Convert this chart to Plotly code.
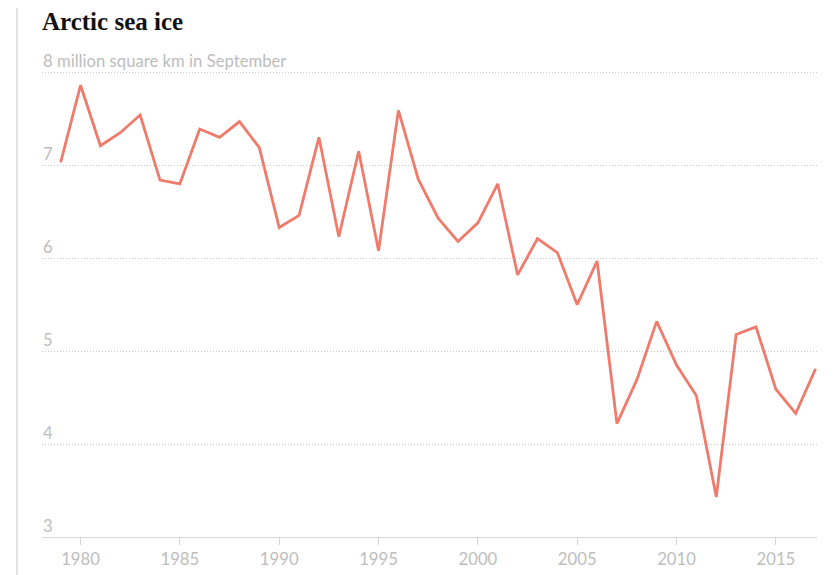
import plotly.graph_objects as go

years = list(range(1979, 2018))
extent = [7.03, 7.86, 7.21, 7.35, 7.54, 6.84, 6.80, 7.39, 7.30, 7.47,
          7.19, 6.33, 6.46, 7.30, 6.23, 7.15, 6.08, 7.59, 6.85, 6.43,
          6.18, 6.38, 6.80, 5.82, 6.21, 6.06, 5.50, 5.97, 4.22, 4.69,
          5.32, 4.85, 4.52, 3.43, 5.18, 5.26, 4.59, 4.33, 4.81]

x_ticks = [1980, 1985, 1990, 1995, 2000, 2005, 2010, 2015]
y_ticks = [3, 4, 5, 6, 7, 8]
y_ticktext = ["3", "4", "5", "6", "7", "8 million square km in September"]

title_text = "Arctic sea ice"

GRAY_TXT = "#bdbdbd"
GRID = "#c8c8c8"
AXIS = "#d6d6d6"
LINE = "#ee7b6b"

# page body has an 8px default margin: figure sized/offset to compensate
W, H = 825, 567
Y_TOP = 8.1
PX_PER_UNIT = 93.0
L = 34
PW = 775
PH = (Y_TOP - 3) * PX_PER_UNIT
BOTTOM = 529.3
T = BOTTOM - PH

fig = go.Figure()
fig.add_trace(go.Scatter(
    x=years, y=extent, mode="lines",
    line=dict(color=LINE, width=2.8),
    hoverinfo="x+y", showlegend=False,
))

annotations = [
    dict(x=0, xref="paper", y=v, yref="y", text=t, showarrow=False,
         xanchor="left", yanchor="middle", yshift=11, xshift=-1,
         font=dict(family="Lato", size=16.7, color=GRAY_TXT))
    for v, t in zip(y_ticks, y_ticktext)
]

fig.update_layout(
    width=W, height=H,
    margin=dict(l=L, r=W - L - PW, t=T, b=H - BOTTOM, pad=0, autoexpand=False),
    paper_bgcolor="white", plot_bgcolor="white",
    title=dict(text="<b>" + title_text + "</b>", x=0, xref="paper", xanchor="left",
               y=1 - 13 / H, yref="container", yanchor="middle",
               font=dict(family="Liberation Serif", size=25, color="#111111")),
    font=dict(family="Lato", color=GRAY_TXT),
    xaxis=dict(range=[1978.06, 2017.07], tickvals=x_ticks,
               showgrid=False, zeroline=False, automargin=False,
               showline=True, linecolor=AXIS, linewidth=1,
               ticks="outside", ticklen=7, tickcolor=AXIS, tickwidth=1,
               tickfont=dict(family="Lato", size=16.7, color=GRAY_TXT)),
    yaxis=dict(range=[3, Y_TOP], tickvals=y_ticks[1:], automargin=False,
               showgrid=True, gridcolor=GRID, griddash="1px,2px", gridwidth=1,
               zeroline=False, showline=False, ticks="", showticklabels=False),
    annotations=annotations,
    shapes=[dict(type="line", xref="paper", yref="paper",
                 x0=(9 - L) / PW, x1=(9 - L) / PW,
                 y0=-0.2, y1=1.3,
                 line=dict(color="#d9d9d9", width=1.5))],
)

fig.write_html("out.html")
